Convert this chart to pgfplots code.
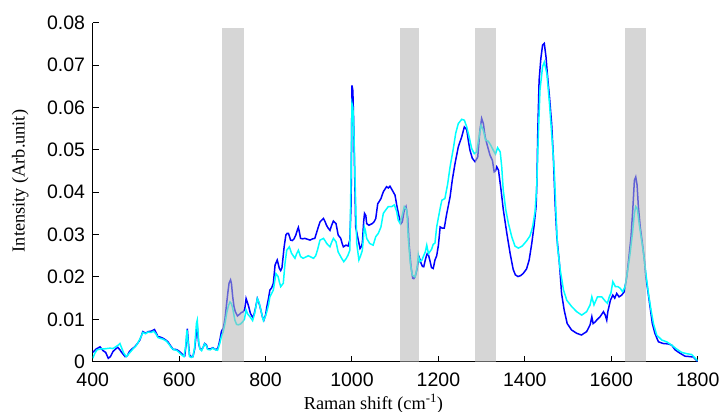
\documentclass[border=0pt]{standalone}
\usepackage{pgfplots}
\usepackage{pgfplotstable}
\pgfplotsset{compat=1.18}
\usepackage{fontspec}
\setmainfont{Liberation Serif}
\newfontfamily\ticksf{Liberation Sans}

\definecolor{specblue}{RGB}{0,0,255}
\definecolor{speccyan}{RGB}{0,255,255}
\definecolor{bandgray}{RGB}{180,180,180}

% Spectrum 1 (blue)
\pgfplotstableread{
x y
400 0.0022
408 0.0030
417 0.0035
424 0.0026
430 0.0022
436 0.0008
441 0.0012
447 0.0024
452 0.0029
458 0.0034
463 0.0028
467 0.0022
475 0.0012
480 0.0014
485 0.0024
491 0.0030
497 0.0035
503 0.0042
509 0.0051
513 0.0062
516 0.0071
523 0.0067
528 0.0071
535 0.0072
543 0.0076
547 0.0068
551 0.0059
557 0.0058
563 0.0055
568 0.0052
574 0.0047
580 0.0038
586 0.0029
592 0.0029
597 0.0027
603 0.0022
609 0.0016
613 0.0014
616 0.0040
619 0.0078
621 0.0050
624 0.0016
628 0.0012
632 0.0012
636 0.0030
639 0.0060
642 0.0085
645 0.0045
648 0.0031
652 0.0028
656 0.0035
659 0.0043
663 0.0040
666 0.0030
672 0.0030
678 0.0033
682 0.0030
686 0.0028
690 0.0033
694 0.0050
698 0.0072
702 0.0079
706 0.0100
710 0.0138
713 0.0165
715.5 0.0185
719 0.0193
721 0.0185
724 0.0153
727 0.0130
730 0.0118
735 0.0108
740 0.0112
744 0.0116
748.5 0.0118
752 0.0125
755 0.0149
758 0.0140
761 0.0130
765 0.0114
770 0.0105
773 0.0110
777 0.0128
781 0.0149
785 0.0138
789 0.0122
793 0.0105
796 0.0098
800 0.0110
803 0.0130
807 0.0150
810 0.0169
814 0.0174
818 0.0185
822 0.0228
827 0.0240
832 0.0220
835 0.0215
838 0.0222
843 0.0271
847 0.0299
850 0.0303
853 0.0303
858 0.0287
862 0.0286
866 0.0290
870 0.0299
874 0.0312
876 0.0317
879 0.0302
881 0.0291
886 0.0290
891 0.0291
897 0.0289
903 0.0287
909 0.0290
914 0.0291
920 0.0311
926 0.0330
930 0.0334
934 0.0338
938 0.0330
941 0.0322
945 0.0315
949 0.0310
953 0.0322
957 0.0332
963 0.0326
966 0.0310
968 0.0299
974 0.0291
977 0.0280
980 0.0271
986 0.0275
991 0.0273
995 0.0287
998 0.0373
1000 0.0652
1002 0.0640
1004 0.0560
1006 0.0452
1008.6 0.0318
1013 0.0295
1018.6 0.0267
1022 0.0272
1024 0.0280
1027 0.0330
1029 0.0350
1032 0.0345
1034 0.0326
1039 0.0322
1047 0.0326
1051 0.0330
1055 0.0338
1059.6 0.0373
1063 0.0378
1067 0.0385
1072.5 0.0401
1080 0.0413
1084 0.0410
1088 0.0414
1093 0.0405
1099.6 0.0393
1103.5 0.0370
1109 0.0342
1113.5 0.0326
1116.5 0.0330
1121 0.0358
1125 0.0366
1129 0.0340
1132 0.0279
1136.6 0.0224
1140.5 0.0197
1143 0.0196
1146 0.0200
1150 0.0216
1153.5 0.0236
1156 0.0245
1160 0.0232
1163 0.0225
1166 0.0224
1170.6 0.0244
1174 0.0255
1177 0.0252
1180 0.0240
1184 0.0222
1188 0.0220
1192 0.0240
1196 0.0250
1200 0.0275
1204 0.0318
1209 0.0315
1213.5 0.0315
1219 0.0348
1227 0.0389
1232 0.0428
1238.5 0.0468
1246 0.0507
1254 0.0531
1260 0.0554
1265.5 0.0548
1269 0.0523
1273 0.0499
1278.5 0.0480
1284.7 0.0472
1291 0.0483
1296 0.0546
1300 0.0574
1304 0.0562
1308 0.0531
1314 0.0507
1319.5 0.0487
1325 0.0475
1329 0.0448
1332 0.0450
1335 0.0460
1339 0.0452
1345 0.0405
1350 0.0360
1358 0.0305
1366 0.0255
1373 0.0218
1378 0.0205
1384 0.0201
1390 0.0203
1396 0.0208
1404 0.0219
1410 0.0240
1416 0.0279
1421 0.0318
1426 0.0366
1428 0.0428
1430 0.0546
1433 0.0664
1437 0.0715
1441 0.0747
1445 0.0751
1449 0.0719
1452 0.0680
1457 0.0625
1462 0.0562
1466 0.0483
1470 0.0373
1474 0.0295
1480 0.0232
1485 0.0161
1491 0.0122
1498 0.0090
1508 0.0075
1520 0.0067
1531 0.0063
1543 0.0071
1551 0.0087
1555 0.0106
1558 0.0090
1563 0.0094
1566 0.0098
1574 0.0106
1582 0.0118
1586 0.0110
1589.5 0.0098
1592 0.0118
1598 0.0145
1603.6 0.0157
1608 0.0150
1612.6 0.0161
1618 0.0153
1624 0.0157
1630 0.0165
1635.8 0.0200
1641 0.0248
1645.7 0.0295
1649.7 0.0358
1653.5 0.0428
1656.6 0.0436
1659.7 0.0417
1662.7 0.0366
1667 0.0318
1672 0.0279
1676.7 0.0240
1680 0.0200
1684.4 0.0169
1689.7 0.0130
1695 0.0090
1701 0.0067
1709 0.0047
1720 0.0043
1732 0.0042
1740 0.0039
1747.6 0.0028
1759 0.0020
1770.7 0.0013
1782 0.0012
1790 0.0011
1800 0.0000
}\specA

% Spectrum 2 (cyan)
\pgfplotstableread{
x y
400 0.0008
405 0.0020
410 0.0028
418 0.0030
425 0.0030
432 0.0031
440 0.0032
447 0.0031
453 0.0035
459 0.0039
463 0.0043
468 0.0030
472 0.0020
478 0.0012
483 0.0018
488 0.0024
494 0.0031
500 0.0037
506 0.0047
511 0.0057
516 0.0069
522 0.0066
528 0.0070
535 0.0069
541 0.0072
546 0.0066
551 0.0057
557 0.0055
563 0.0053
570 0.0049
576 0.0042
582 0.0033
588 0.0028
594 0.0027
600 0.0022
606 0.0016
611 0.0012
615 0.0035
618 0.0075
621 0.0045
624 0.0012
628 0.0010
632 0.0012
636 0.0035
640 0.0090
642 0.0098
645 0.0050
648 0.0030
652 0.0026
656 0.0035
659 0.0042
663 0.0038
666 0.0029
672 0.0028
678 0.0032
684 0.0028
689 0.0027
694 0.0043
698 0.0060
702 0.0071
706 0.0090
710 0.0114
714 0.0132
717.7 0.0141
721 0.0137
724 0.0126
729 0.0098
733 0.0088
737 0.0087
742 0.0089
747 0.0094
751 0.0100
755 0.0122
759 0.0112
764 0.0106
770 0.0097
775 0.0115
781 0.0149
785 0.0140
789 0.0122
795 0.0097
799 0.0105
803 0.0118
807 0.0135
810 0.0153
818 0.0169
824 0.0208
829 0.0201
832 0.0188
835 0.0177
841 0.0185
845 0.0232
849 0.0263
855 0.0271
860 0.0256
868 0.0244
872 0.0255
876 0.0263
881 0.0248
887 0.0244
893 0.0247
899 0.0250
905 0.0247
911 0.0244
916 0.0250
920 0.0263
926 0.0287
934 0.0291
938 0.0285
941.5 0.0279
949 0.0271
953 0.0282
957 0.0291
963 0.0283
968 0.0259
976 0.0244
981 0.0236
987 0.0244
991 0.0252
995 0.0263
998 0.0450
1000 0.0609
1002 0.0600
1004 0.0560
1007.5 0.0413
1011 0.0279
1016 0.0240
1020 0.0250
1024 0.0263
1028.6 0.0318
1031 0.0310
1034 0.0291
1041 0.0279
1049 0.0275
1055 0.0295
1061 0.0303
1067 0.0318
1072.5 0.0350
1078 0.0358
1084 0.0366
1092 0.0366
1098 0.0370
1103.5 0.0354
1107 0.0334
1111.5 0.0326
1115 0.0340
1121 0.0366
1127 0.0358
1130 0.0295
1135 0.0232
1139.7 0.0204
1143 0.0202
1146 0.0200
1151 0.0224
1153.5 0.0252
1157 0.0236
1162 0.0240
1165 0.0248
1169.6 0.0259
1173 0.0275
1177 0.0255
1180.5 0.0260
1184 0.0265
1188 0.0277
1192 0.0280
1196 0.0318
1200 0.0340
1204 0.0362
1208 0.0381
1215 0.0385
1221.5 0.0420
1227 0.0460
1234.5 0.0503
1240 0.0539
1246 0.0562
1254 0.0572
1260 0.0570
1265.5 0.0554
1271 0.0531
1277 0.0503
1283 0.0491
1288.5 0.0495
1294 0.0530
1298.6 0.0558
1304 0.0546
1309 0.0523
1315.5 0.0520
1321 0.0511
1327 0.0499
1332 0.0490
1337 0.0505
1343 0.0495
1346.5 0.0460
1350 0.0405
1356 0.0358
1362 0.0326
1369.7 0.0295
1377 0.0273
1385 0.0268
1394 0.0273
1404 0.0285
1412 0.0297
1418 0.0318
1423.6 0.0354
1427.5 0.0413
1431.6 0.0546
1435 0.0641
1441 0.0696
1445 0.0707
1451 0.0680
1457 0.0609
1462 0.0539
1468 0.0452
1472.5 0.0342
1475.6 0.0271
1482 0.0216
1489.5 0.0169
1497 0.0145
1508.5 0.0130
1520 0.0118
1531.6 0.0110
1543 0.0118
1551 0.0134
1555 0.0153
1560 0.0134
1568 0.0153
1578 0.0153
1586 0.0143
1591 0.0138
1596 0.0155
1599 0.0161
1603.6 0.0189
1609.6 0.0177
1615.7 0.0177
1621 0.0173
1626 0.0165
1632 0.0177
1638 0.0216
1643.6 0.0256
1649 0.0303
1653.5 0.0350
1656.6 0.0366
1660.5 0.0360
1664.5 0.0326
1669 0.0295
1674.7 0.0256
1680 0.0208
1686 0.0161
1692 0.0122
1697.6 0.0090
1705 0.0063
1717 0.0051
1728 0.0047
1740 0.0039
1751 0.0030
1763 0.0022
1774 0.0019
1786 0.0017
1800 0.0002
}\specB

\begin{document}
\begin{tikzpicture}
\begin{axis}[
  name=ax,
  scale only axis, width=605bp, height=339bp,
  xmin=400, xmax=1800, ymin=0, ymax=0.08,
  axis lines=left,
  axis line style={-, line width=1.2bp, black},
  tick style={black, line width=1bp},
  major tick length=6bp, tick align=inside,
  xtick={400,600,800,1000,1200,1400,1600,1800},
  ytick={0,0.01,0.02,0.03,0.04,0.05,0.06,0.07,0.08},
  scaled y ticks=false,
  /pgf/number format/assume math mode=true,
  /pgf/number format/1000 sep={},
  ticklabel style={font=\ticksf\fontsize{19.5bp}{22bp}\selectfont},
  xticklabel style={anchor=north, inner sep=0pt, yshift=-10.5bp},
  yticklabel style={anchor=east, inner sep=0pt, xshift=-7.5bp,
    /pgf/number format/fixed, /pgf/number format/precision=2},
  xlabel={Raman shift (cm\textsuperscript{-1})},
  ylabel={Intensity (Arb.unit)},
  label style={font=\fontsize{18.3bp}{20bp}\selectfont},
  xlabel style={at={(axis description cs:0.464,-0.140)}, anchor=base},
  ylabel style={at={(axis description cs:-0.1127,0.533)}, anchor=base},
]
\addplot[specblue, line width=1.5bp] table[x=x, y=y] {\specA};
\addplot[speccyan, line width=1.5bp] table[x=x, y=y] {\specB};

% shaded bands over the spectra
\addplot[draw=none, fill=bandgray, fill opacity=0.55]
  coordinates {(700,0) (700,0.0787) (750,0.0787) (750,0)} -- cycle;
\addplot[draw=none, fill=bandgray, fill opacity=0.55]
  coordinates {(1110,0) (1110,0.0787) (1154,0.0787) (1154,0)} -- cycle;
\addplot[draw=none, fill=bandgray, fill opacity=0.55]
  coordinates {(1284,0) (1284,0.0787) (1334,0.0787) (1334,0)} -- cycle;
\addplot[draw=none, fill=bandgray, fill opacity=0.55]
  coordinates {(1631,0) (1631,0.0787) (1681,0.0787) (1681,0)} -- cycle;
\end{axis}
\pgfresetboundingbox
\useasboundingbox ([shift={(-92.7bp,-50.3bp)}]ax.south west)
  rectangle ([shift={(25.3bp,22.7bp)}]ax.north east);
\end{tikzpicture}
\end{document}
